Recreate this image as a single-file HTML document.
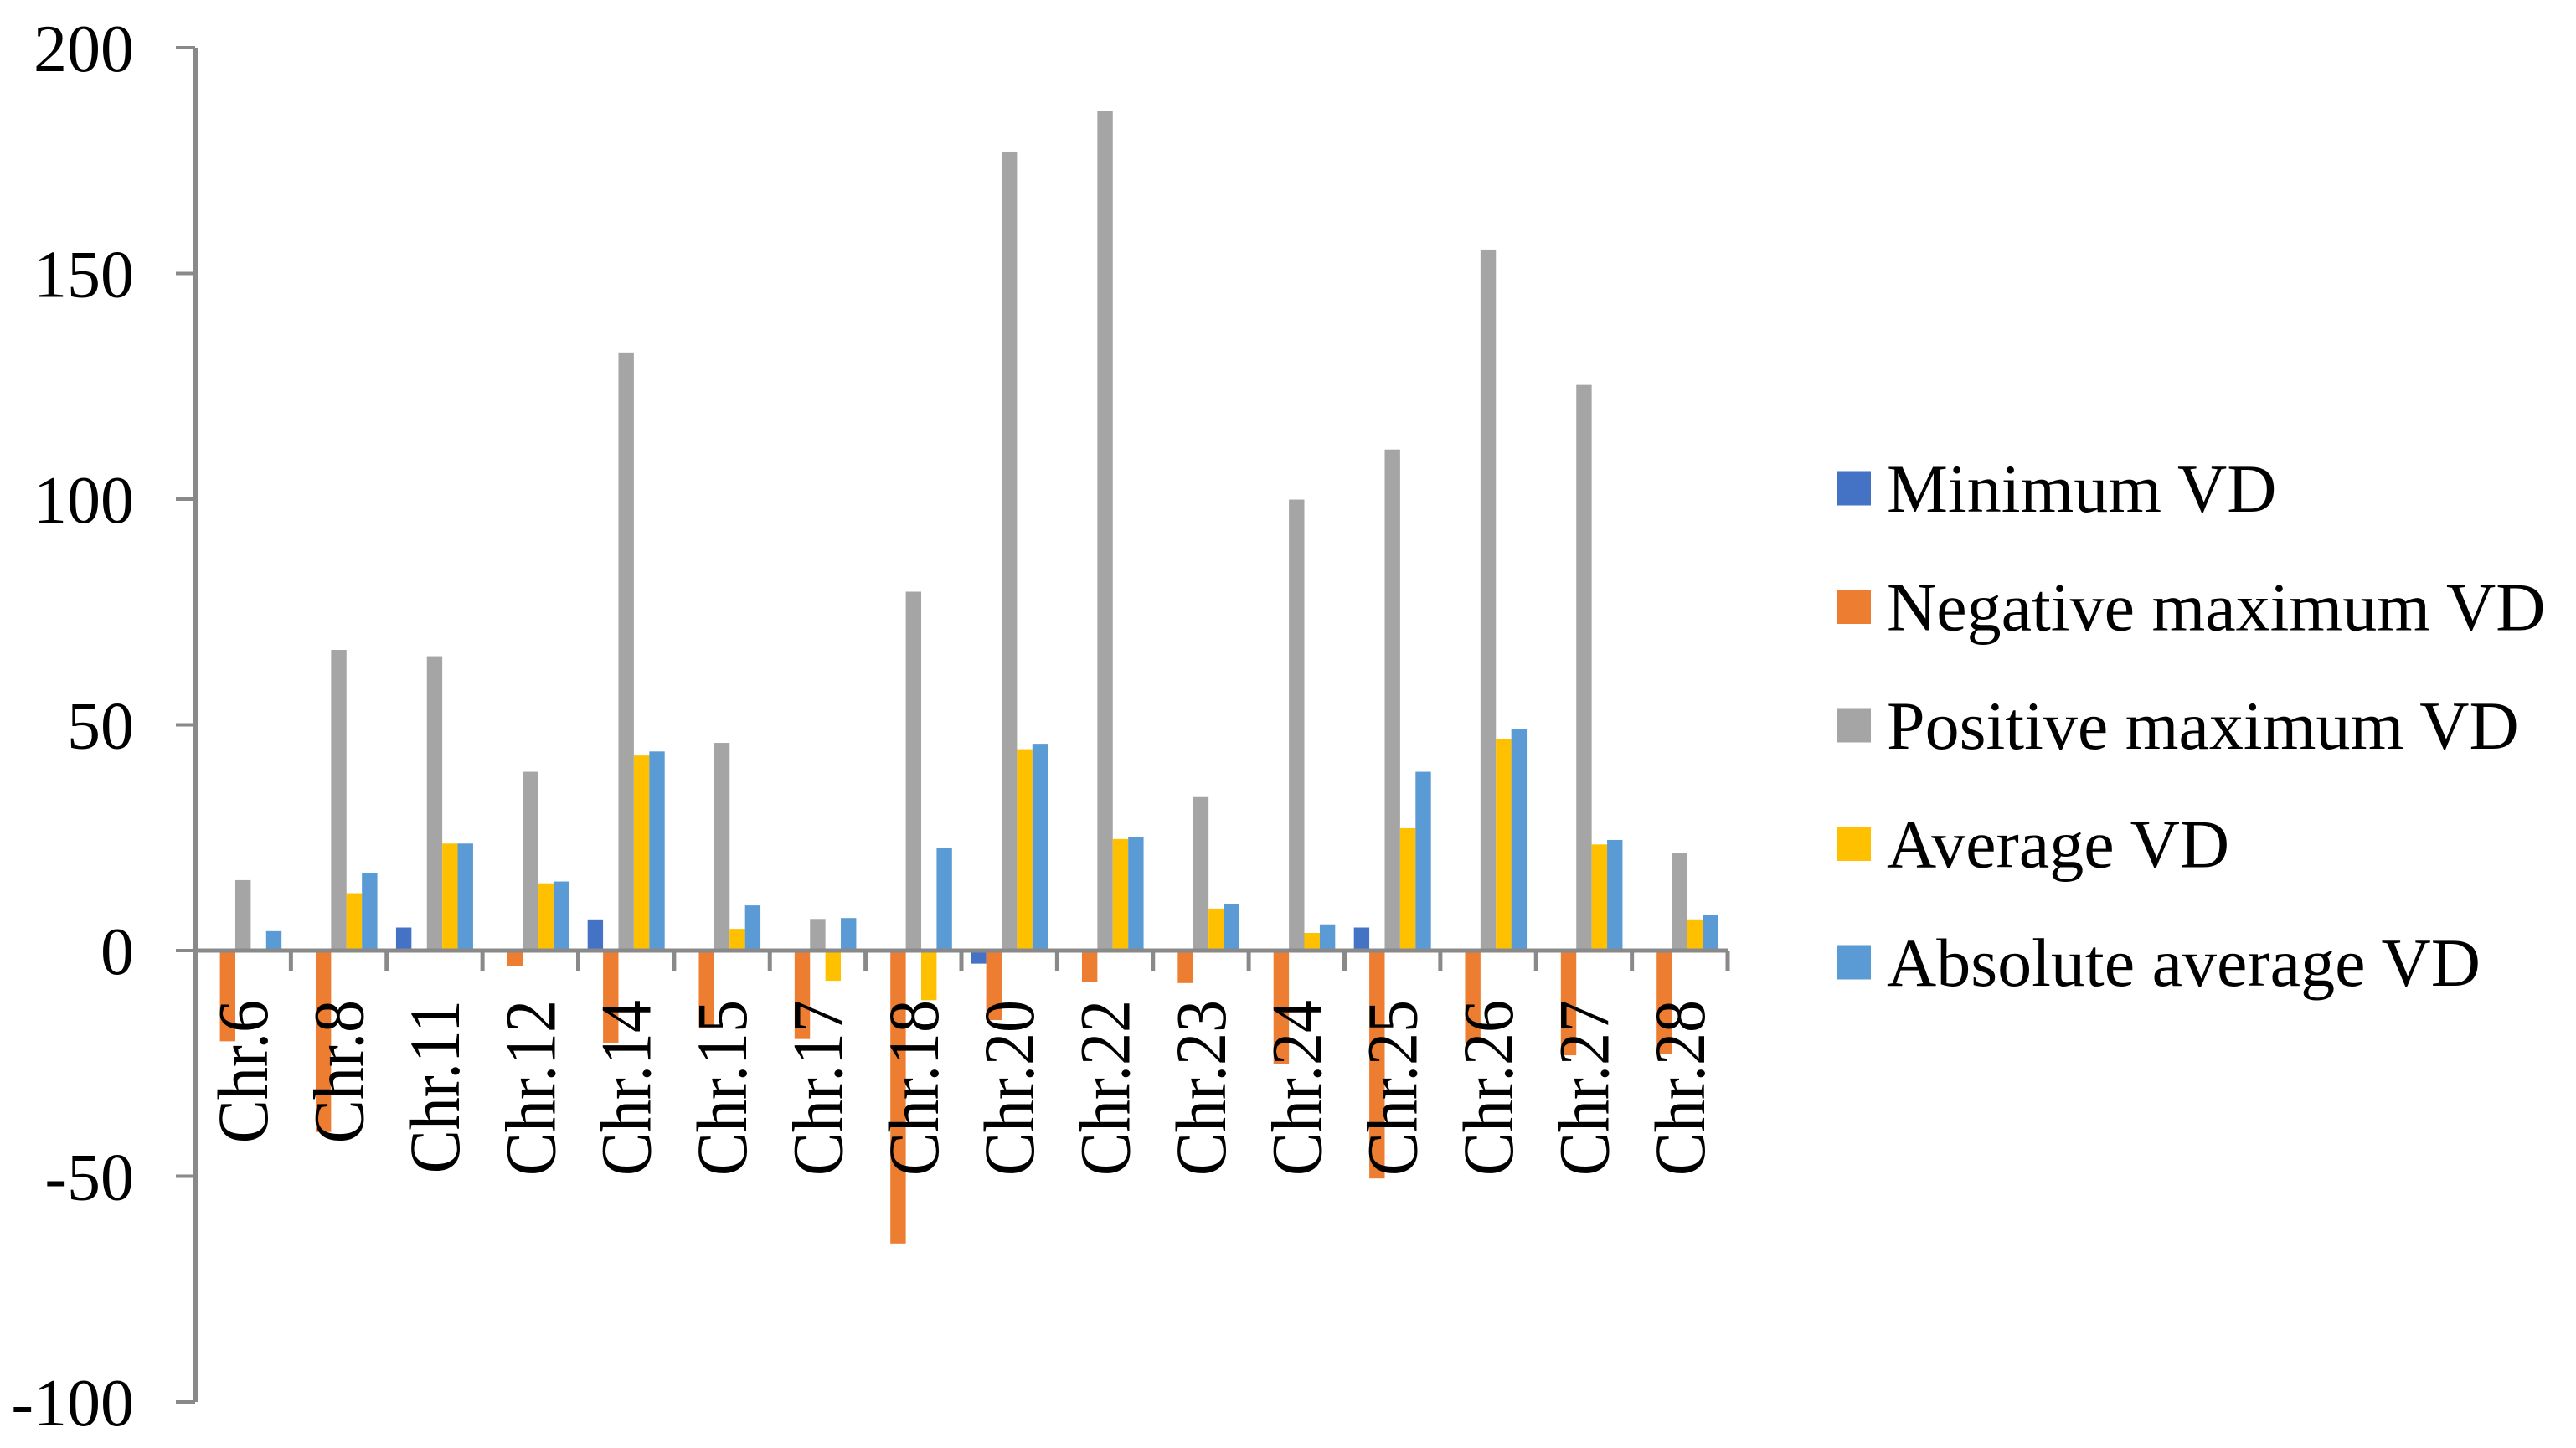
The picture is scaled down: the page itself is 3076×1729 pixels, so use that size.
<!DOCTYPE html>
<html><head><meta charset="utf-8"><style>
html,body{margin:0;padding:0;background:#fff}
svg{display:block}
text{font-family:"Liberation Serif",serif;fill:#000}
</style></head><body>
<svg id="chart" width="3076" height="1729" viewBox="0 0 3076 1729" xmlns="http://www.w3.org/2000/svg">
<g id="bars"></g>
<g id="axes"></g>
<g id="legend"></g>
</svg>
<script>
const categories = ["Chr.6","Chr.8","Chr.11","Chr.12","Chr.14","Chr.15","Chr.17","Chr.18","Chr.20","Chr.22","Chr.23","Chr.24","Chr.25","Chr.26","Chr.27","Chr.28"];
const minimumVD = [0,0,5.1,0,6.9,0,0,0,-2.9,0,0,0,5.1,0,0,0];
const negativeMaxVD = [-20.1,-40.2,0,-3.4,-20.4,-17,-19.6,-64.9,-15.4,-7,-7.2,-25.2,-50.5,-20.4,-23.2,-23];
const positiveMaxVD = [15.6,66.6,65.2,39.6,132.5,46,7,79.5,177,185.9,34,99.9,111,155.3,125.3,21.6];
const averageVD = [0,12.7,23.7,14.9,43.2,4.8,-6.7,-11,44.6,24.7,9.3,3.9,27.1,46.9,23.5,6.9];
const absAverageVD = [4.3,17.2,23.7,15.3,44.1,10,7.2,22.8,45.8,25.2,10.3,5.8,39.6,49.1,24.5,7.9];
const seriesNames = ["Minimum VD","Negative maximum VD","Positive maximum VD","Average VD","Absolute average VD"];
const yTicks = [200,150,100,50,0,-50,-100];

const seriesData = [minimumVD, negativeMaxVD, positiveMaxVD, averageVD, absAverageVD];
const colors = ["#4472C4","#ED7D31","#A5A5A5","#FFC000","#5B9BD5"];
const NS = "http://www.w3.org/2000/svg";
const x0 = 233, x1 = 2063, y0 = 1135, pxPerUnit = 5.39;
const catW = (x1 - x0) / categories.length;
const barW = 18.4, gap = (catW - 5 * barW) / 2;
function yScale(v){ return y0 - v * pxPerUnit; }
function xCat(i){ return x0 + i * catW; }
function mk(tag, attrs, parent){
  const e = document.createElementNS(NS, tag);
  for (const k in attrs) e.setAttribute(k, attrs[k]);
  parent.appendChild(e);
  return e;
}
const gBars = document.getElementById("bars");
const gAxes = document.getElementById("axes");
const gLeg = document.getElementById("legend");

seriesData.forEach((arr, s) => {
  arr.forEach((v, i) => {
    if (v === 0) return;
    const top = Math.min(yScale(v), yScale(0));
    const h = Math.abs(yScale(v) - yScale(0));
    const r = mk("rect", {x: xCat(i) + gap + s * barW, y: top, width: barW, height: h, fill: colors[s]}, gBars);
    
    
  });
});

const ya = mk("line", {x1: x0, y1: yScale(200), x2: x0, y2: yScale(-100), stroke: "#898989", "stroke-width": 6}, gAxes);


yTicks.forEach(t => {
  const tl = mk("line", {x1: 210, y1: yScale(t), x2: x0, y2: yScale(t), stroke: "#898989", "stroke-width": 4}, gAxes);
  
  
  const tx = mk("text", {x: 160, y: yScale(t) + 28, "text-anchor": "end", "font-size": 80}, gAxes);
  tx.textContent = String(t);
  
  
});
const xa = mk("line", {x1: x0, y1: y0, x2: x1, y2: y0, stroke: "#898989", "stroke-width": 5}, gAxes);


for (let i = 1; i <= categories.length; i++) {
  const ct = mk("line", {x1: xCat(i), y1: y0, x2: xCat(i), y2: y0 + 25, stroke: "#898989", "stroke-width": 5}, gAxes);
  
  
}
categories.forEach((c, i) => {
  const cx = xCat(i) + catW / 2 + 29;
  const t = mk("text", {transform: "translate(" + cx + ",1194) rotate(-90) scale(1,1.1)", "text-anchor": "end", "font-size": 78}, gAxes);
  t.textContent = c;
  
  
});

seriesNames.forEach((n, s) => {
  const cy = 583 + s * 141.5;
  const sq = mk("rect", {x: 2193, y: cy - 20.5, width: 41, height: 41, fill: colors[s]}, gLeg);
  
  
  const t = mk("text", {x: 2253, y: cy + 28, "font-size": 82}, gLeg);
  t.textContent = n;
  
  
});
</script>
</body></html>
